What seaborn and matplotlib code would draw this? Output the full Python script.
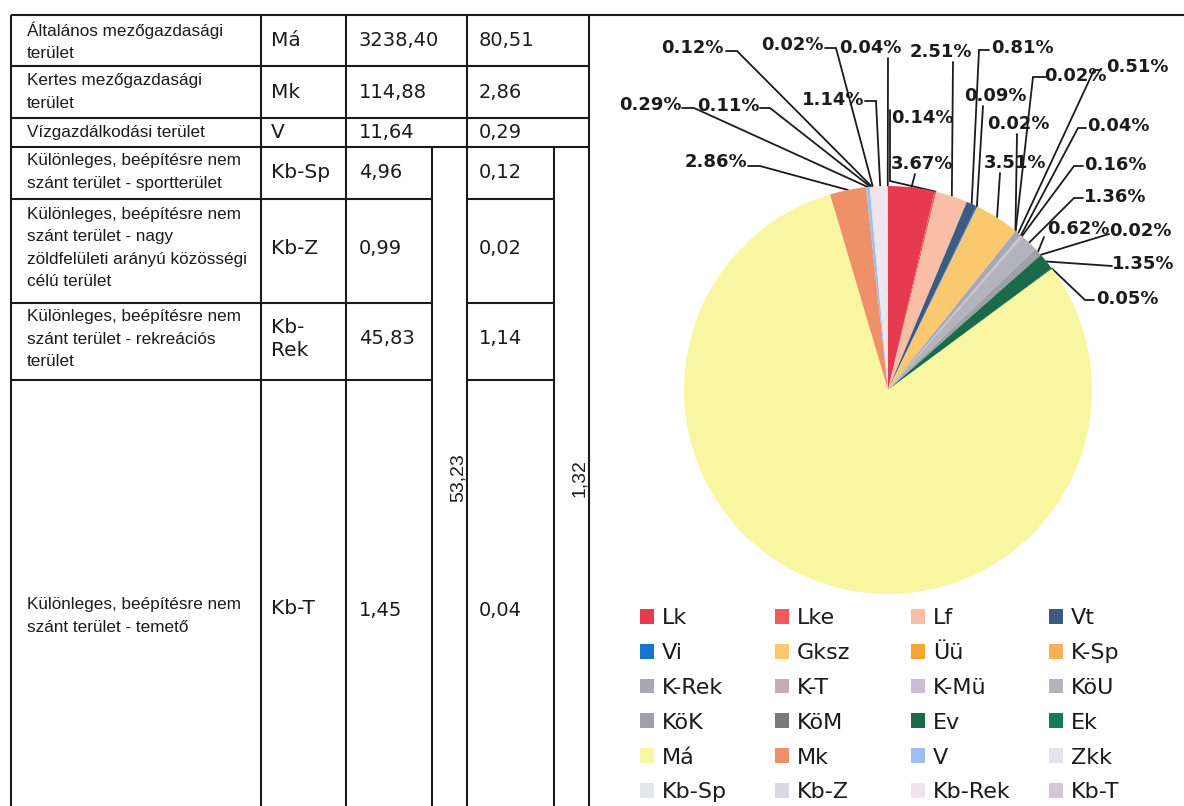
import numpy as np
import matplotlib
matplotlib.use('Agg')
import matplotlib.pyplot as plt
import seaborn as sns

# table on the left side of the page
descriptions = [
    'Általános mezőgazdasági\nterület',
    'Kertes mezőgazdasági\nterület',
    'Vízgazdálkodási terület',
    'Különleges, beépítésre nem\nszánt terület - sportterület',
    'Különleges, beépítésre nem\nszánt terület - nagy\nzöldfelületi arányú közösségi\ncélú terület',
    'Különleges, beépítésre nem\nszánt terület - rekreációs\nterület',
    'Különleges, beépítésre nem\nszánt terület - temető',
]
codes = ['Má', 'Mk', 'V', 'Kb-Sp', 'Kb-Z', 'Kb-\nRek', 'Kb-T']
areas = ['3238,40', '114,88', '11,64', '4,96', '0,99', '45,83', '1,45']
shares = ['80,51', '2,86', '0,29', '0,12', '0,02', '1,14', '0,04']
kb_area_total = '53,23'
kb_share_total = '1,32'

# pie chart data (clockwise from 12 o'clock)
categories = ['Lk', 'Lke', 'Lf', 'Vt', 'Vi', 'Gksz', 'Üü', 'K-Sp', 'K-Rek', 'K-T', 'K-Mü', 'KöU',
              'KöK', 'KöM', 'Ev', 'Ek', 'Má', 'Mk', 'V', 'Zkk', 'Kb-Sp', 'Kb-Z', 'Kb-Rek', 'Kb-T']
percents = [3.67, 0.14, 2.51, 0.81, 0.09, 3.51, 0.02, 0.02, 0.51, 0.04, 0.16, 1.36,
            0.62, 0.02, 1.35, 0.05, 80.54, 2.86, 0.29, 0.11, 0.12, 0.02, 1.14, 0.04]
colors = ['#E63B4E', '#F05A5A', '#F8BFA6', '#3D5A80', '#1874CD', '#FAC86E', '#F5A531', '#F8B255',
          '#A8A8B0', '#C9A8B8', '#C8BED6', '#B3B3BD', '#A0A0A8', '#7A7A7A', '#1B6B4A', '#18795A',
          '#F9F6A2', '#EF9068', '#9CBFEF', '#E3E3EA', '#E2E6EE', '#D9D9E2', '#F1E4EC', '#D6C6D8']

# where each percentage label sits (pixels from top-left) and the start of its leader line
label_xy = {
    'Lk': (922, 164), 'Lke': (922, 118), 'Lf': (941, 52), 'Vt': (1022, 48), 'Vi': (995, 96),
    'Gksz': (1015, 163), 'Üü': (1018, 124), 'K-Sp': (1075, 76), 'K-Rek': (1137, 67),
    'K-T': (1118, 126), 'K-Mü': (1115, 165), 'KöU': (1115, 197), 'KöK': (1078, 229),
    'KöM': (1140, 231), 'Ev': (1143, 264), 'Ek': (1127, 299), 'Má': (813, 522),
    'Mk': (716, 162), 'V': (650, 105), 'Zkk': (728, 106), 'Kb-Sp': (692, 48),
    'Kb-Z': (792, 45), 'Kb-Rek': (833, 100), 'Kb-T': (870, 48),
}
leader_start = {
    'Lk': [(915, 174)], 'Lke': [(890, 110), (890, 181)], 'Lf': [(953, 62)],
    'Vt': [(989, 50), (979, 50)], 'Vi': [(983, 106)], 'Gksz': [(1000, 173)],
    'Üü': [(1017, 134)], 'K-Sp': [(1046, 77), (1033, 77)], 'K-Rek': [(1101, 70), (1094, 70)],
    'K-T': [(1086, 128), (1078, 128)], 'K-Mü': [(1083, 166), (1074, 166)],
    'KöU': [(1083, 198), (1074, 198)], 'KöK': [(1044, 237)], 'KöM': [(1109, 234)],
    'Ev': [(1112, 266)], 'Ek': [(1094, 300), (1085, 300)],
    'Mk': [(748, 166), (760, 166)], 'V': [(682, 108), (694, 108)], 'Zkk': [(760, 108), (770, 108)],
    'Kb-Sp': [(726, 51), (737, 51)], 'Kb-Z': [(825, 48), (836, 48)],
    'Kb-Rek': [(865, 101), (876, 101)], 'Kb-T': [(888, 58)],
}

W, H = 1184, 806
sns.set_theme(style='white')
plt.rcParams['font.family'] = ['DejaVu Sans']
narrow = ['Liberation Sans', 'DejaVu Sans']
ink = '#1b1b1b'

fig = plt.figure(figsize=(W / 100, H / 100), dpi=100)
ax = fig.add_axes([0, 0, 1, 1])
ax.set_xlim(0, W)
ax.set_ylim(H, 0)
ax.axis('off')

# table grid
lw = 1.5
row_lines = [15, 66, 118, 147, 199, 303, 380]
ax.hlines(15, 11, W, color=ink, lw=lw)
ax.hlines(row_lines[1:4], 11, 589, color=ink, lw=lw)
ax.hlines(row_lines[4:], 11, 432, color=ink, lw=lw)
ax.hlines(row_lines[4:], 467, 554, color=ink, lw=lw)
ax.vlines([11, 261, 346, 467, 589], 15, H, color=ink, lw=lw)
ax.vlines([432, 554], 147, H, color=ink, lw=lw)

row_mid = [41, 92, 132, 172, 248, 339, 616]
for i in range(len(descriptions)):
    y = row_mid[i]
    ax.text(27, y, descriptions[i], family=narrow, fontsize=12.3, color=ink,
            va='center', ha='left', linespacing=1.6)
    ax.text(271, y - (7 if i == 6 else 0), codes[i], fontsize=14.5, color=ink,
            va='center', ha='left', linespacing=1.25)
    ax.text(359, y - (5 if i == 6 else 0), areas[i], fontsize=14, color=ink, va='center', ha='left')
    ax.text(479, y - (5 if i == 6 else 0), shares[i], fontsize=14, color=ink, va='center', ha='left')
ax.text(458, 478, kb_area_total, family=narrow, fontsize=14, color=ink,
        rotation=90, va='center', ha='center')
ax.text(579, 478, kb_share_total, family=narrow, fontsize=14, color=ink,
        rotation=90, va='center', ha='center')

# pie chart
cx, cy, R = 888, 390, 204
pax = fig.add_axes([(cx - R) / W, 1 - (cy + R) / H, 2 * R / W, 2 * R / H])
palette = sns.color_palette(colors)
wedges, _ = pax.pie(percents, colors=palette, startangle=90, counterclock=False,
                    wedgeprops=dict(linewidth=0))
pax.set_xlim(-1, 1)
pax.set_ylim(-1, 1)

to_px = ax.transData.inverted()
for w, cat, val in zip(wedges, categories, percents):
    tx, ty = label_xy[cat]
    ax.text(tx, ty, f'{val:.2f}%', fontsize=13, fontweight='bold', color=ink,
            ha='center', va='center')
    if cat in leader_start:
        ang = np.deg2rad((w.theta1 + w.theta2) / 2)
        ex, ey = to_px.transform(pax.transData.transform((np.cos(ang), np.sin(ang))))
        pts = leader_start[cat] + [(ex, ey)]
        ax.plot([p[0] for p in pts], [p[1] for p in pts], color=ink, lw=1.3,
                solid_joinstyle='miter')

# legend: 4 columns filled row by row
col_x = [640, 775, 911, 1049]
for c in range(4):
    idx = list(range(c, len(categories), 4))
    leg = fig.legend([wedges[i] for i in idx], [categories[i] for i in idx],
                     loc='upper left', bbox_to_anchor=(col_x[c] / W, 1 - 608 / H),
                     bbox_transform=fig.transFigure, frameon=False, fontsize=16,
                     handlelength=0.65, handleheight=0.65, handletextpad=0.35,
                     labelspacing=0.67, borderpad=0, borderaxespad=0)
    for t in leg.get_texts():
        t.set_color(ink)

fig.savefig('out.png', dpi=100)
